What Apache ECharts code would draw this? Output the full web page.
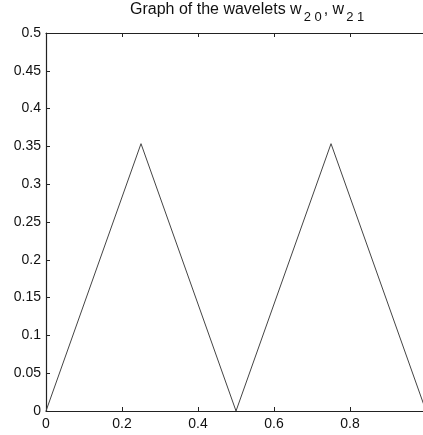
<!DOCTYPE html>
<html>
<head>
<meta charset="utf-8">
<script src="https://cdn.jsdelivr.net/npm/echarts@6/dist/echarts.min.js"></script>
<style>
html,body{margin:0;padding:0;background:#fff;}
#c{width:423px;height:435px;}
</style>
</head>
<body>
<div id="c"></div>
<script>
// Data
var xValues = [0, 0.25, 0.5, 0.75, 1];
var yValues = [0, 0.3536, 0, 0.3536, 0];
var xTicks = [0, 0.2, 0.4, 0.6, 0.8];
var yTicks = [0, 0.05, 0.1, 0.15, 0.2, 0.25, 0.3, 0.35, 0.4, 0.45, 0.5];

var points = xValues.map(function (x, i) { return [x, yValues[i]]; });
var font = "'Liberation Sans', Arial, Helvetica, sans-serif";

function fmt(v) {
  var r = Math.round(v * 100) / 100;
  return String(r);
}

var chart = echarts.init(document.getElementById('c'), null, {renderer: 'canvas'});
chart.setOption({
  animation: false,
  backgroundColor: '#fff',
  title: {
    text: '{n|Graph of the wavelets w}{s|2 0}{n|, w}{s|2 1}',
    left: 130,
    top: 2,
    padding: 0,
    textStyle: {
      fontFamily: font,
      fontSize: 16,
      fontWeight: 'normal',
      color: '#111',
      rich: {
        n: {fontFamily: font, fontSize: 16, fontWeight: 'normal', color: '#111', verticalAlign: 'top', lineHeight: 16},
        s: {fontFamily: font, fontSize: 13, fontWeight: 'normal', color: '#111', verticalAlign: 'top', lineHeight: 12, padding: [9, 2, 0, 2]}
      }
    }
  },
  grid: {left: 46, top: 33, right: 0, bottom: 24, containLabel: false},
  xAxis: [{
    type: 'value',
    min: 0,
    max: 0.992,
    interval: 0.2,
    position: 'bottom',
    axisLine: {show: true, onZero: false, lineStyle: {color: '#222', width: 1.2}},
    axisTick: {show: true, inside: true, length: 4, lineStyle: {color: '#222'}},
    axisLabel: {
      show: true, color: '#111', fontFamily: font, fontSize: 14, margin: 6,
      showMaxLabel: false,
      formatter: function (v) {
        for (var i = 0; i < xTicks.length; i++) if (Math.abs(v - xTicks[i]) < 1e-6) return fmt(v);
        return '';
      }
    },
    splitLine: {show: false}
  }, {
    type: 'value',
    min: 0,
    max: 0.992,
    interval: 0.2,
    position: 'top',
    axisLine: {show: true, onZero: false, lineStyle: {color: '#222', width: 1.2}},
    axisTick: {show: true, inside: true, length: 4, lineStyle: {color: '#222'}},
    axisLabel: {show: false},
    splitLine: {show: false}
  }],
  yAxis: {
    type: 'value',
    min: 0,
    max: 0.5,
    interval: 0.05,
    axisLine: {show: true, onZero: false, lineStyle: {color: '#222', width: 1.2}},
    axisTick: {show: true, inside: true, length: 4, lineStyle: {color: '#222'}},
    axisLabel: {
      color: '#111', fontFamily: font, fontSize: 14, margin: 5,
      formatter: function (v) { return fmt(v); }
    },
    splitLine: {show: false}
  },
  series: [{
    type: 'line',
    xAxisIndex: 0,
    data: points,
    symbol: 'none',
    clip: true,
    lineStyle: {color: '#444', width: 1}
  }]
});
</script>
</body>
</html>
